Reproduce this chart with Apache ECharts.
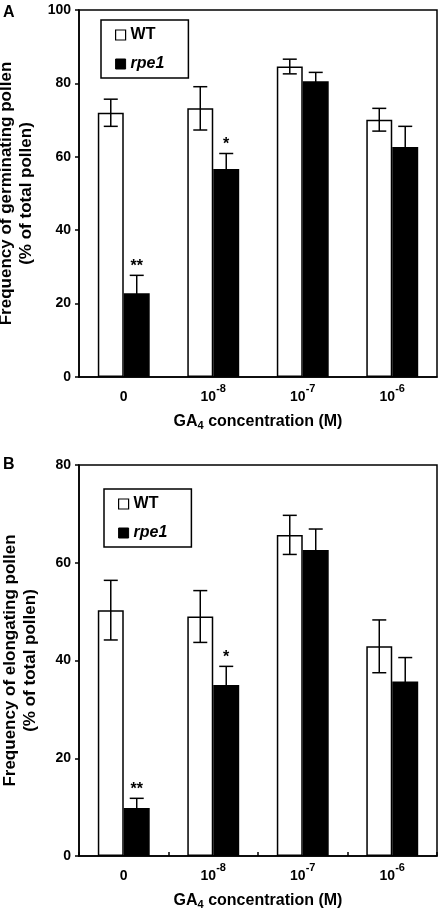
<!DOCTYPE html>
<html>
<head>
<meta charset="utf-8">
<script src="https://cdn.jsdelivr.net/npm/echarts@6/dist/echarts.min.js"></script>
<style>html,body{margin:0;padding:0;background:#fff}#c{width:442px;height:913px}</style>
</head>
<body>
<div id="c"></div>
<script>
// ---- data ----
var categories = ['0', '10^-8', '10^-7', '10^-6'];
var seriesNames = ['WT', 'rpe1'];
// Panel A: germinating pollen (%)
var germWT = [72.0, 73.2, 84.6, 70.1];
var germWTErr = [3.7, 5.9, 2.0, 3.1];
var germRpe = [22.8, 56.7, 80.6, 62.7];
var germRpeErr = [4.9, 4.2, 2.4, 5.6];
var germSig = ['**', '*', '', ''];
// Panel B: elongating pollen (%)
var elonWT = [50.3, 49.0, 65.7, 42.9];
var elonWTErr = [6.1, 5.3, 4.0, 5.4];
var elonRpe = [9.8, 35.0, 62.6, 35.7];
var elonRpeErr = [2.0, 3.8, 4.3, 4.9];
var elonSig = ['**', '*', '', ''];

var FONT = 'Arial, "Liberation Sans", Helvetica, sans-serif';
var BAR_FRAC = 0.29;

function catFormatter(v) {
  var m = v.split('^');
  return m.length > 1 ? m[0] + '{sup|' + m[1] + '}' : v;
}

function errSeries(name, gridIdx, vals, errs, sig, side) {
  var data = vals.map(function (v, i) { return [i, v, errs[i], sig ? sig[i] : '']; });
  return {
    type: 'custom', name: name + '_err', xAxisIndex: gridIdx, yAxisIndex: gridIdx, z: 10,
    silent: true,
    encode: { x: 0, y: 1 },
    data: data,
    renderItem: function (params, api) {
      var i = api.value(0), v = api.value(1), e = api.value(2);
      var bw = api.size([1, 0])[0] * BAR_FRAC;
      var cx = api.coord([i, v])[0] + side * bw / 2;
      var yTop = api.coord([i, v + e])[1];
      var yBot = api.coord([i, v - e])[1];
      var cap = 7;
      var ls = { stroke: '#000', lineWidth: 1.5 };
      var children = [
        { type: 'line', shape: { x1: cx, y1: yTop, x2: cx, y2: yBot }, style: ls },
        { type: 'line', shape: { x1: cx - cap, y1: yTop, x2: cx + cap, y2: yTop }, style: ls },
        { type: 'line', shape: { x1: cx - cap, y1: yBot, x2: cx + cap, y2: yBot }, style: ls }
      ];
      var s = data[params.dataIndex][3];
      if (s) {
        children.push({
          type: 'text', x: cx, y: yTop - 9,
          style: { text: s, fill: '#000', font: 'bold 16px ' + FONT, textAlign: 'center', textVerticalAlign: 'middle' }
        });
      }
      return { type: 'group', children: children };
    }
  };
}

function barSeries(name, gridIdx, vals) {
  var isWT = name === 'WT';
  return {
    type: 'bar', name: name, xAxisIndex: gridIdx, yAxisIndex: gridIdx,
    data: vals, barWidth: (BAR_FRAC * 100) + '%', barGap: '0%',
    itemStyle: { color: isWT ? '#fff' : '#000', borderColor: '#000', borderWidth: 1.5 },
    emphasis: { disabled: true }
  };
}

var legendBase = {
  orient: 'vertical',
  borderColor: '#000', borderWidth: 1.5,
  itemWidth: 10, itemHeight: 10, itemGap: 11,
  textStyle: { fontFamily: FONT, fontSize: 16, fontWeight: 'bold', color: '#000', lineHeight: 18,
    rich: { i: { fontFamily: FONT, fontSize: 16, fontWeight: 'bold', fontStyle: 'italic', color: '#000', lineHeight: 18 } } },
  formatter: function (n) { return n === 'rpe1' ? '{i|rpe1}' : n; },
  data: [
    { name: 'WT', icon: 'rect', itemStyle: { color: '#fff', borderColor: '#000', borderWidth: 1.2 } },
    { name: 'rpe1', icon: 'rect', itemStyle: { color: '#000', borderColor: '#000', borderWidth: 1 } }
  ],
  selectedMode: false
};

function yAxisCfg(gridIdx, max, name) {
  return {
    type: 'value', gridIndex: gridIdx, min: 0, max: max, interval: 20,
    name: name, nameLocation: 'middle', nameGap: 39, nameRotate: 90,
    nameTextStyle: { fontFamily: FONT, fontSize: 17, fontWeight: 'bold', color: '#000', lineHeight: 20, align: 'center' },
    axisLine: { show: true, lineStyle: { color: '#000', width: 1.5 } },
    axisTick: { show: true, length: 4, inside: false, lineStyle: { color: '#000', width: 1.5 } },
    axisLabel: { fontFamily: FONT, fontSize: 14, fontWeight: 'bold', color: '#000', margin: 8 },
    splitLine: { show: false }
  };
}

function xAxisCfg(gridIdx, ticks) {
  return {
    type: 'category', gridIndex: gridIdx, data: categories,
    name: 'GA{sub|4} concentration (M)', nameLocation: 'middle', nameGap: 35,
    nameTextStyle: { fontFamily: FONT, fontSize: 16, fontWeight: 'bold', color: '#000',
      rich: { sub: { fontFamily: FONT, fontSize: 11, fontWeight: 'bold', color: '#000', padding: [8, 0, 0, 0] } } },
    axisLine: { show: true, lineStyle: { color: '#000', width: 1.5 } },
    axisTick: { show: ticks, inside: true, length: 4, interval: 0, alignWithLabel: false, lineStyle: { color: '#000', width: 1.5 } },
    axisLabel: { interval: 0, fontFamily: FONT, fontSize: 14, fontWeight: 'bold', color: '#000', margin: 6, lineHeight: 28,
      formatter: catFormatter,
      rich: { sup: { fontFamily: FONT, fontSize: 11, fontWeight: 'bold', color: '#000', lineHeight: 12, verticalAlign: 'top' } } }
  };
}

var chart = echarts.init(document.getElementById('c'), null, { renderer: 'canvas' });
chart.setOption({
  animation: false,
  backgroundColor: '#fff',
  graphic: [
    { type: 'text', left: 3, top: 5, style: { text: 'A', font: 'bold 16px ' + FONT, fill: '#000' } },
    { type: 'text', left: 3, top: 457, style: { text: 'B', font: 'bold 16px ' + FONT, fill: '#000' } }
  ],
  grid: [
    { left: 79, top: 10, width: 358, height: 367, outerBoundsMode: 'none', containLabel: false, show: true, borderColor: '#000', borderWidth: 1.5, backgroundColor: 'transparent' },
    { left: 79, top: 465, width: 358, height: 391, outerBoundsMode: 'none', containLabel: false, show: true, borderColor: '#000', borderWidth: 1.5, backgroundColor: 'transparent' }
  ],
  legend: [
    Object.assign({}, legendBase, { left: 101, top: 20, padding: [6, 24, 5, 14] }),
    Object.assign({}, legendBase, { left: 104, top: 489, padding: [6, 24, 5, 14] })
  ],
  xAxis: [xAxisCfg(0, false), xAxisCfg(1, true)],
  yAxis: [
    yAxisCfg(0, 100, 'Frequency of germinating pollen\n(% of total pollen)'),
    yAxisCfg(1, 80, 'Frequency of elongating pollen\n(% of total pollen)')
  ],
  series: [
    barSeries('WT', 0, germWT),
    barSeries('rpe1', 0, germRpe),
    errSeries('WT', 0, germWT, germWTErr, null, -1),
    errSeries('rpe1', 0, germRpe, germRpeErr, germSig, 1),
    barSeries('WT', 1, elonWT),
    barSeries('rpe1', 1, elonRpe),
    errSeries('WT', 1, elonWT, elonWTErr, null, -1),
    errSeries('rpe1', 1, elonRpe, elonRpeErr, elonSig, 1)
  ]
});
</script>
</body>
</html>
